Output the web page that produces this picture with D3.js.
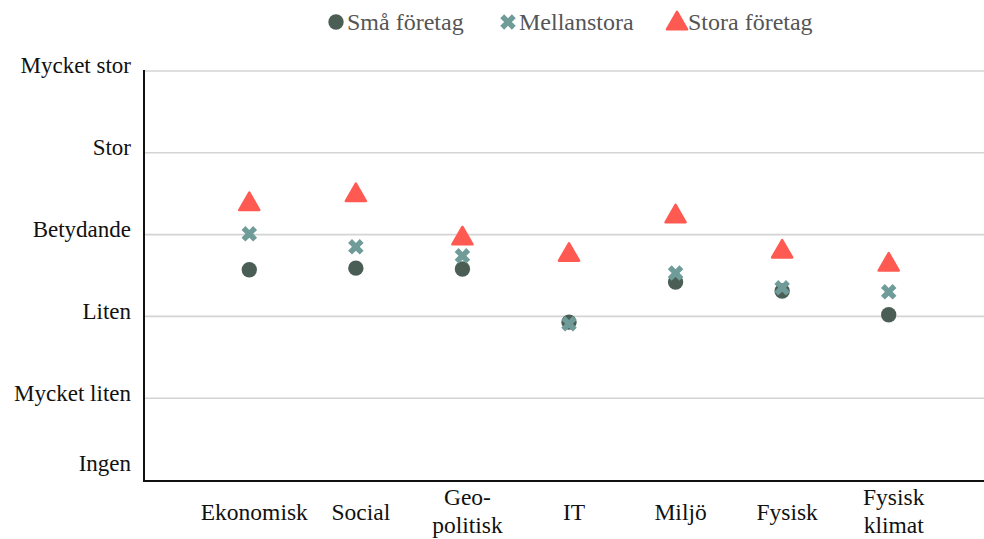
<!DOCTYPE html>
<html>
<head>
<meta charset="utf-8">
<script src="https://cdn.jsdelivr.net/npm/d3@7"></script>
<style>
  html, body { margin: 0; padding: 0; background: #fff; }
  svg { display: block; }
</style>
</head>
<body>
<svg id="chart" width="984" height="539" font-family="'Liberation Serif', 'Times New Roman', serif"></svg>
<script>
// Risk categories along the x axis (labels may wrap onto two lines)
const categories = ["Ekonomisk", "Social", "Geo-\npolitisk", "IT", "Miljö", "Fysisk", "Fysisk\nklimat"];

// Rating scale on the y axis, 0 = Ingen ... 5 = Mycket stor
const levelLabels = ["Ingen", "Mycket liten", "Liten", "Betydande", "Stor", "Mycket stor"];

// Average rating per company size
const smaForetag   = [2.57, 2.59, 2.58, 1.93, 2.42, 2.31, 2.02];
const mellanstora  = [3.01, 2.85, 2.74, 1.91, 2.53, 2.35, 2.30];
const storaForetag = [3.39, 3.50, 2.97, 2.77, 3.24, 2.81, 2.65];

const seriesNames = ["Små företag", "Mellanstora", "Stora företag"];

const FONT = "'Liberation Serif', 'Times New Roman', serif";

const series = [
  { name: seriesNames[0], values: smaForetag,   color: "#4b5e55", shape: "circle" },
  { name: seriesNames[1], values: mellanstora,  color: "#6f9b98", shape: "cross" },
  { name: seriesNames[2], values: storaForetag, color: "#ff5a52", shape: "triangle" }
];

const svg = d3.select("#chart");
const W = 984;
const plot = { left: 144, right: 984, top: 71, bottom: 480 };

const y = d3.scaleLinear().domain([0, 5]).range([plot.bottom, plot.top]);
const x = d3.scaleBand().domain(categories).range([196, 942]);
const cx = d => x(d) + x.bandwidth() / 2;

// Horizontal gridlines
svg.append("g")
  .selectAll("line")
  .data(d3.range(1, 6))
  .join("line")
  .attr("x1", plot.left).attr("x2", W)
  .attr("y1", d => y(d)).attr("y2", d => y(d))
  .attr("stroke", "#d4d4d4").attr("stroke-width", 1.6);

// Y axis labels
const yAxis = d3.axisLeft(y)
  .tickValues(d3.range(0, 6))
  .tickFormat(d => levelLabels[d])
  .tickSize(0)
  .tickPadding(13);

const yg = svg.append("g")
  .attr("transform", `translate(${plot.left},0)`)
  .call(yAxis)
  .attr("font-family", FONT)
  .attr("font-size", 23);
yg.select(".domain").remove();
yg.selectAll("text")
  .attr("font-family", FONT)
  .attr("font-size", 23)
  .attr("fill", "#111")
  .attr("dy", d => d === 0 ? "-0.42em" : "0.08em");

// Axis lines
svg.append("line")
  .attr("x1", plot.left).attr("x2", plot.left)
  .attr("y1", plot.top - 1).attr("y2", plot.bottom + 1)
  .attr("stroke", "#111").attr("stroke-width", 2);
svg.append("line")
  .attr("x1", plot.left - 1).attr("x2", W)
  .attr("y1", plot.bottom + 1).attr("y2", plot.bottom + 1)
  .attr("stroke", "#111").attr("stroke-width", 2);

// X axis category labels
const xl = svg.append("g").selectAll("text")
  .data(categories)
  .join("text")
  .attr("text-anchor", "middle")
  .attr("font-family", FONT)
  .attr("font-size", 23.5)
  .attr("fill", "#111");
xl.each(function(d) {
  const lines = d.split("\n");
  const t = d3.select(this);
  const base = lines.length === 1 ? 520 : 505;
  lines.forEach((ln, i) => {
    t.append("tspan")
      .attr("x", cx(d) + 5)
      .attr("y", base + i * 28)
      .text(ln);
  });
});

// Marker shapes: filled circle, thick diagonal cross, rounded triangle
const symbolFor = {
  circle: d3.symbol().type(d3.symbolCircle).size(185),
  cross: d3.symbol().type(d3.symbolCross).size(150),
  triangle: d3.symbol().type(d3.symbolTriangle).size(175)
};

function drawMarker(sel, s, dx, dy) {
  const rot = s.shape === "cross" ? " rotate(45)" : "";
  const off = s.shape === "triangle" ? 1.5 : 0;
  sel.attr("d", symbolFor[s.shape]())
    .attr("fill", s.color)
    .attr("transform", d => `translate(${dx(d)},${dy(d) + off})${rot}`);
  if (s.shape === "triangle") {
    sel.attr("stroke", s.color).attr("stroke-width", 2.5).attr("stroke-linejoin", "round");
  }
}

series.forEach(s => {
  svg.append("g").selectAll("path")
    .data(s.values.map((v, i) => ({ v, c: categories[i] })))
    .join("path")
    .call(drawMarker, s, d => cx(d.c), d => y(d.v));
});

// Legend
const legendPos = [336, 508, 677];
const lg = svg.append("g");
series.forEach((s, i) => {
  const g = lg.append("g");
  g.append("path").datum(i).call(drawMarker, s, d => legendPos[d], () => 22);
  g.append("text")
    .attr("x", legendPos[i] + 11).attr("y", 30)
    .attr("font-family", FONT)
    .attr("font-size", 24)
    .attr("fill", "#555")
    .text(s.name);
});
</script>
</body>
</html>
